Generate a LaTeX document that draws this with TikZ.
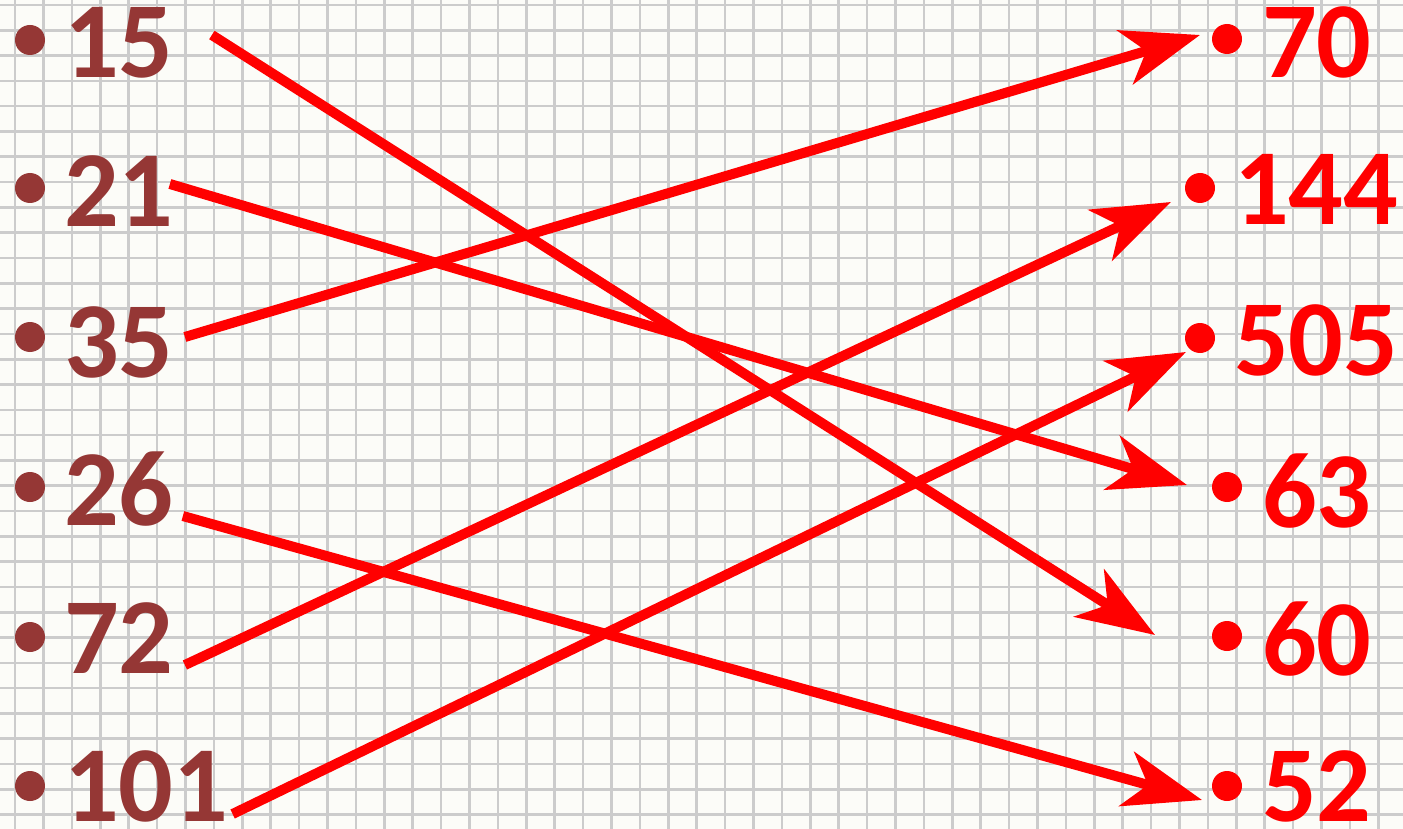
\documentclass[tikz,border=0pt]{standalone}
\usepackage{fontspec}
\setmainfont{Carlito}
\usepackage{tikz}
\usetikzlibrary{
  arrows.meta,
  calc
}
\definecolor{leftnum}{RGB}{149,55,53}
\definecolor{rightnum}{RGB}{255,0,0}
\definecolor{paper}{RGB}{252,252,248}

\begin{document}
\begin{tikzpicture}[
    x=1pt, y=-1pt,
    dot/.style={
      circle, fill=#1, inner sep=0pt, minimum size=30pt
    },
    num/.style={
      anchor=base west, inner sep=0pt, text=#1,
      font=\fontsize{108}{108}\selectfont\bfseries
    },
    link/.style={
      line width=10pt, rightnum,
      -{Stealth[length=78pt, width=56pt, inset=22pt]}
    },
    gridline/.style={black!20, line width=2.6pt}
  ]

  %% Squared paper
  \fill[paper] (0,0) rectangle (1403,829);
  \useasboundingbox (0,0) rectangle (1403,829);
  \foreach \k in {0,...,48}
    \draw[gridline] (15+\k*28.4,0) -- (15+\k*28.4,829);
  \foreach \k in {0,...,32}
    \draw[gridline] (0,5+\k*25.3) -- (1403,5+\k*25.3);

  %% Left column
  \node[dot=leftnum] (dl15)  at (30,40)  {};
  \node[dot=leftnum] (dl21)  at (30,188) {};
  \node[dot=leftnum] (dl35)  at (30,337) {};
  \node[dot=leftnum] (dl26)  at (30,487) {};
  \node[dot=leftnum] (dl72)  at (30,637) {};
  \node[dot=leftnum] (dl101) at (30,786) {};
  \node[num=leftnum] (n15)  at (64,78)  {15};
  \node[num=leftnum] (n21)  at (64,226) {21};
  \node[num=leftnum] (n35)  at (64,377) {35};
  \node[num=leftnum] (n26)  at (64,525) {26};
  \node[num=leftnum] (n72)  at (64,673) {72};
  \node[num=leftnum] (n101) at (64,821) {101};

  %% Right column
  \node[dot=rightnum] (d70)  at (1227,39)  {};
  \node[dot=rightnum] (d144) at (1200,188) {};
  \node[dot=rightnum] (d505) at (1200,338) {};
  \node[dot=rightnum] (d63)  at (1227,487) {};
  \node[dot=rightnum] (d60)  at (1227,636) {};
  \node[dot=rightnum] (d52)  at (1227,786) {};
  \node[num=rightnum] (n70)  at (1262,78)  {70};
  \node[num=rightnum] (n144) at (1234,225) {144};
  \node[num=rightnum] (n505) at (1234,375) {505};
  \node[num=rightnum] (n63)  at (1262,527) {63};
  \node[num=rightnum] (n60)  at (1262,675) {60};
  \node[num=rightnum] (n52)  at (1262,821) {52};

  %% Matching arrows
  \draw[link] ($(n15.base east)+(38,-43)$)  -- ($(d60)+(-72,-1)$);
  \draw[link] ($(n21.base east)+(-4,-42)$)  -- ($(d63)+(-40,-2)$);
  \draw[link] ($(n35.base east)+(11,-40)$)  -- ($(d70)+(-27,-4)$);
  \draw[link] ($(n26.base east)+(9,-9)$)    -- ($(d52)+(-25,14)$);
  \draw[link] ($(n72.base east)+(11,-8)$)   -- ($(d144)+(-29,14)$);
  \draw[link] ($(n101.base east)+(4,-7)$)   -- ($(d505)+(-14,14)$);

\end{tikzpicture}
\end{document}
